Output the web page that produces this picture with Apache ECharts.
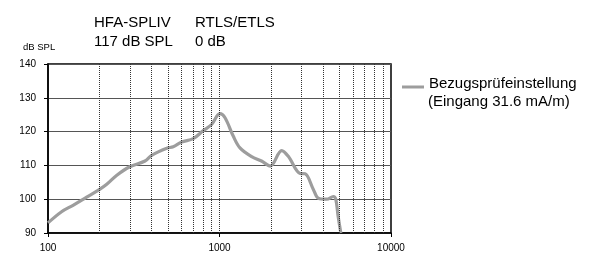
<!DOCTYPE html>
<html>
<head>
<meta charset="utf-8">
<script src="https://cdn.jsdelivr.net/npm/echarts@6/dist/echarts.min.js"></script>
<style>
  html, body { margin: 0; padding: 0; background: #fff; }
  #chart { width: 590px; height: 253px; }
</style>
</head>
<body>
<div id="chart"></div>
<script>
// frequency (Hz) and level (dB SPL)
var freqs = [100, 120, 140, 168, 200, 220, 252, 300, 368, 402, 493, 537, 602, 703, 805, 900, 1005, 1077, 1204, 1316, 1541, 1757, 1976, 2305, 2518, 2955, 3157, 3525, 3768, 4221, 4610, 4763, 4914, 5098];
var levels = [93.0, 96.3, 98.2, 100.6, 102.9, 104.4, 107.1, 109.6, 111.3, 113.0, 115.1, 115.5, 116.9, 117.9, 120.3, 122.1, 125.3, 124.1, 118.6, 115.2, 112.6, 111.3, 109.8, 114.4, 112.7, 107.6, 107.5, 102.9, 100.3, 100.0, 100.8, 100.0, 95.0, 90.0];
// dotted vertical grid lines of the log axis
var gridFreqs = [200, 300, 400, 500, 600, 700, 800, 900, 1000, 2000, 3000, 4000, 5000, 6000, 7000, 8000, 9000];
var xTicks = [100, 1000, 10000];
var seriesName = 'Bezugsprüfeinstellung';
var seriesNote = '(Eingang 31.6 mA/m)';

var font = 'Liberation Sans, Arial, sans-serif';
var chart = echarts.init(document.getElementById('chart'));
chart.setOption({
    animation: false,
    title: [
        { text: 'HFA-SPLIV\n117 dB SPL', left: 89, top: 9,
          textStyle: { fontFamily: font, fontSize: 15, fontWeight: 'normal', color: '#000', lineHeight: 18.5 } },
        { text: 'RTLS/ETLS\n0 dB', left: 190, top: 9,
          textStyle: { fontFamily: font, fontSize: 15, fontWeight: 'normal', color: '#000', lineHeight: 18.5 } },
        { text: 'dB SPL', left: 18, top: 37,
          textStyle: { fontFamily: font, fontSize: 9.5, fontWeight: 'normal', color: '#000' } },
        { text: seriesNote, left: 423, top: 89,
          textStyle: { fontFamily: font, fontSize: 15, fontWeight: 'normal', color: '#000' } }
    ],
    legend: {
        data: [seriesName],
        left: 397, top: 71,
        icon: 'rect',
        itemWidth: 22, itemHeight: 3, itemGap: 5,
        formatter: function (name) { return '{t|' + name + '}'; },
        textStyle: {
            fontFamily: font, fontSize: 15, color: '#000',
            rich: { t: { fontFamily: font, fontSize: 15, color: '#000', padding: [0, 0, 7, 0] } }
        }
    },
    grid: {
        left: 48, right: 199, top: 64, bottom: 19,
        show: true, borderColor: '#000', borderWidth: 1.5
    },
    xAxis: {
        type: 'log', logBase: 10, min: 100, max: 10000,
        axisLine: { show: true, onZero: false, lineStyle: { color: '#000', width: 1.5 } },
        axisTick: { show: true, length: 4, lineStyle: { color: '#000' } },
        axisLabel: {
            fontFamily: font, fontSize: 10, color: '#000', margin: 10,
            formatter: function (v) { return xTicks.indexOf(Math.round(v)) >= 0 ? String(Math.round(v)) : ''; }
        },
        splitLine: { show: false }
    },
    yAxis: {
        type: 'value', min: 90, max: 140, interval: 10,
        axisLine: { show: true, lineStyle: { color: '#000', width: 1.5 } },
        axisTick: { show: true, length: 4, lineStyle: { color: '#000' } },
        axisLabel: { fontFamily: font, fontSize: 10, color: '#000', margin: 12 },
        splitLine: { show: true, lineStyle: { color: '#555', width: 1.2 } }
    },
    series: [{
        name: seriesName,
        type: 'line',
        smooth: 0.35,
        showSymbol: false,
        color: '#9d9d9d',
        lineStyle: { color: '#9d9d9d', width: 3.2 },
        data: freqs.map(function (f, i) { return [f, levels[i]]; }),
        markLine: {
            silent: true,
            symbol: 'none',
            label: { show: false },
            lineStyle: { color: '#333', width: 1, type: [1, 1] },
            data: gridFreqs.map(function (f) { return { xAxis: f }; })
        },
        z: 3
    }]
});
</script>
</body>
</html>
